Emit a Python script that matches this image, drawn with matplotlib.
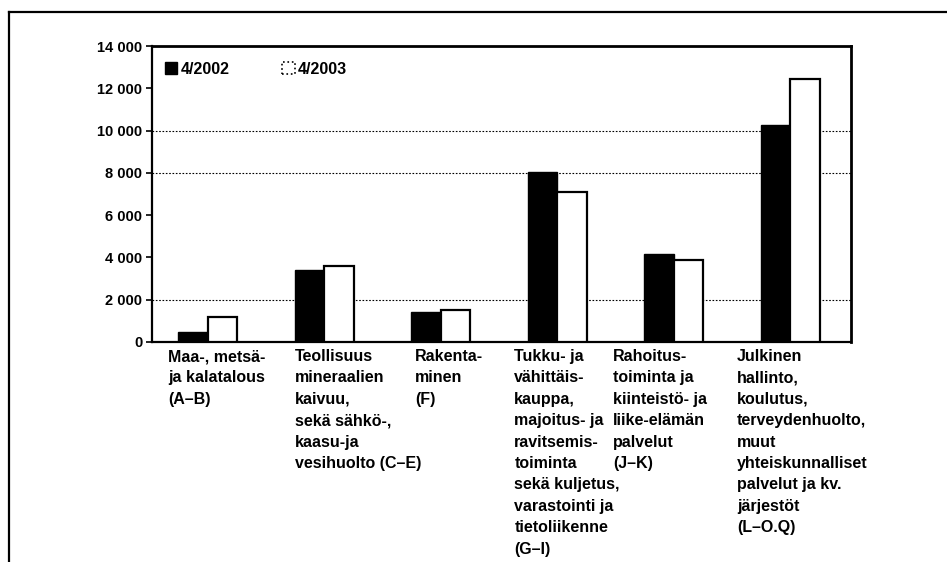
import numpy as np
import matplotlib.pyplot as plt
from matplotlib.lines import Line2D
from matplotlib.patches import Patch

plt.rcParams['font.family'] = ['Liberation Sans', 'DejaVu Sans']
plt.rcParams['font.weight'] = 'bold'

# employed persons by industry, April 2002 vs April 2003
categories = [
    "Maa-, metsä-\nja kalatalous\n(A–B)",
    "Teollisuus\nmineraalien\nkaivuu,\nsekä sähkö-,\nkaasu-ja\nvesihuolto (C–E)",
    "Rakenta-\nminen\n(F)",
    "Tukku- ja\nvähittäis-\nkauppa,\nmajoitus- ja\nravitsemis-\ntoiminta\nsekä kuljetus,\nvarastointi ja\ntietoliikenne\n(G–I)",
    "Rahoitus-\ntoiminta ja\nkiinteistö- ja\nliike-elämän\npalvelut\n(J–K)",
    "Julkinen\nhallinto,\nkoulutus,\nterveydenhuolto,\nmuut\nyhteiskunnalliset\npalvelut ja kv.\njärjestöt\n(L–O.Q)",
]
v2002 = [450, 3400, 1400, 8050, 4150, 10250]
v2003 = [1200, 3600, 1500, 7100, 3900, 12450]
series_names = ["4/2002", "4/2003"]
yticks = [0, 2000, 4000, 6000, 8000, 10000, 12000, 14000]
gridlines = [2000, 8000, 10000]
label_dx = [-0.36, -0.27, -0.24, -0.39, -0.54, -0.48]

fig = plt.figure(figsize=(9.47, 5.62), dpi=100)
ax = fig.add_axes([0.1605, 0.3915, 0.7381, 0.5266])

x = np.arange(len(categories)) - 0.02
w = 0.253
ax.bar(x - w / 2, v2002, w, color="black", edgecolor="black", linewidth=1, zorder=3)
ax.bar(x + w / 2, v2003, w, color="white", edgecolor="black", linewidth=1.6, zorder=3)

for g in gridlines:
    ax.axhline(g, color="black", linestyle=(0, (1.5, 1.5)), linewidth=0.8, zorder=1)

ax.set_xlim(-0.5, len(categories) - 0.5)
ax.set_ylim(0, 14000)
ax.set_yticks(yticks)
ax.set_yticklabels([f"{t:,}".replace(",", " ") for t in yticks], fontsize=10.5, fontweight="bold")
ax.tick_params(axis="y", length=4, width=1.2, pad=3)
ax.set_xticks([])

for s in ax.spines.values():
    s.set_linewidth(1.6)
ax.spines["top"].set_linewidth(2)
ax.spines["right"].set_linewidth(2)

# category labels, one text per line so that the columns sit as in the print
pitch = 15.4
for i, lab in enumerate(categories):
    for j, line in enumerate(lab.split("\n")):
        ax.annotate(line, xy=(i + label_dx[i], 0), xycoords=("data", "axes fraction"),
                    xytext=(0, -13.7 - j * pitch), textcoords="offset points",
                    ha="left", va="baseline", fontsize=11.5, fontweight="bold",
                    annotation_clip=False)

handles = [Patch(facecolor="black", edgecolor="black"),
           Patch(facecolor="white", edgecolor="black", linestyle=":", linewidth=1.2)]
ax.legend(handles, series_names, loc="upper left", ncol=2, frameon=False,
          fontsize=11.5, handlelength=0.8, handleheight=0.8, handletextpad=0.2,
          columnspacing=3.3, bbox_to_anchor=(0.002, 0.985), borderaxespad=0.3)

# outer frame of the scanned page
fig.add_artist(Line2D([9 / 947, 1.0], [1 - 12 / 562, 1 - 12 / 562], color="black", linewidth=1.6))
fig.add_artist(Line2D([9 / 947, 9 / 947], [0, 1 - 12 / 562], color="black", linewidth=1.6))

fig.savefig("out.png", dpi=100)
